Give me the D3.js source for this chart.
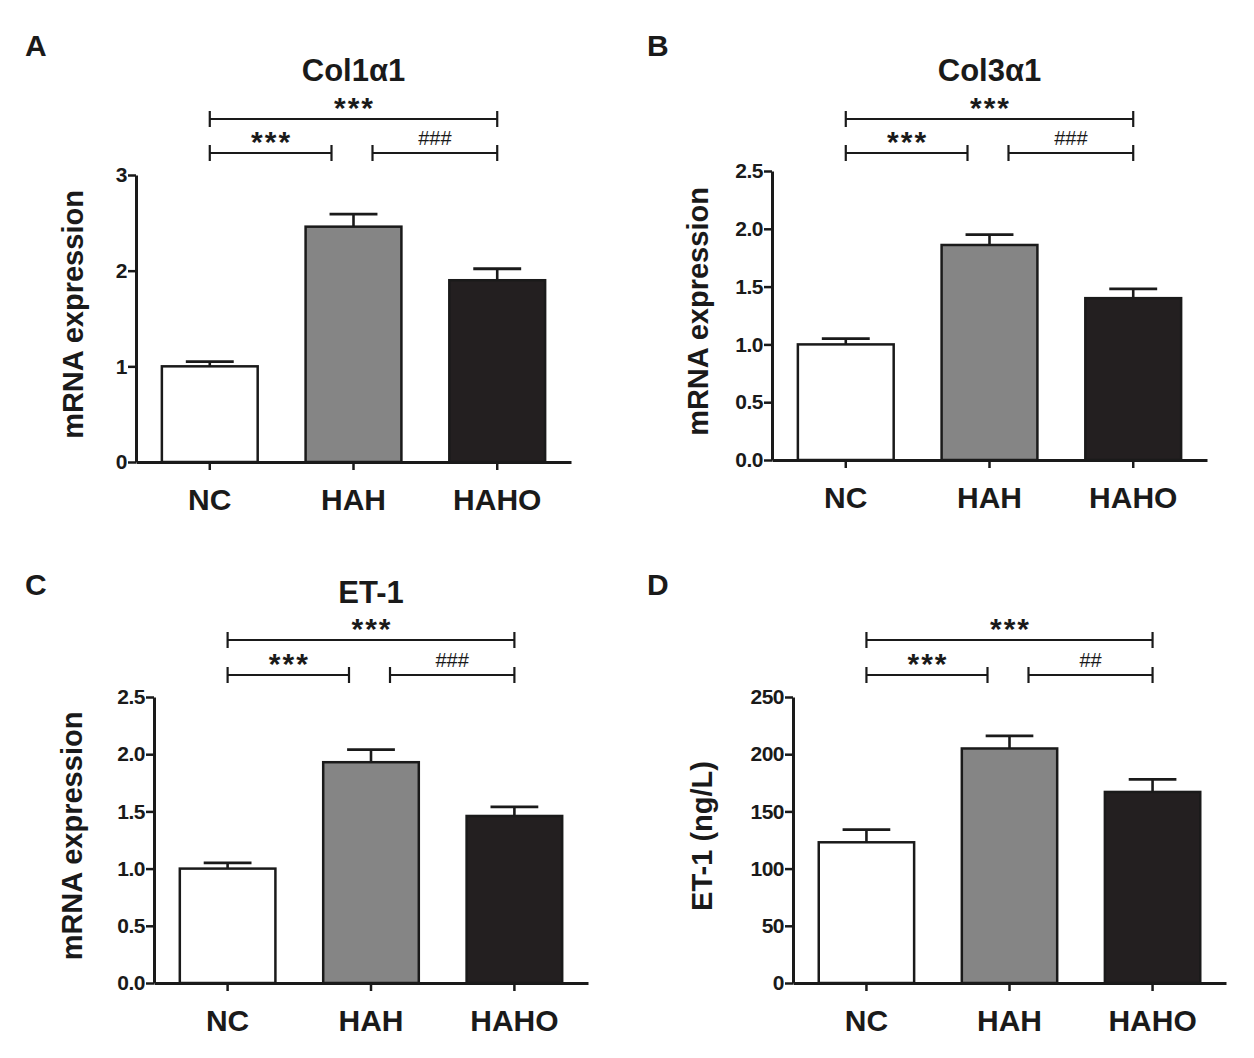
<!DOCTYPE html>
<html>
<head>
<meta charset="utf-8" />
<title>Col1a1 Col3a1 ET-1</title>
<script src="https://d3js.org/d3.v7.min.js"></script>
<style>
  body { margin: 0; background: #fff; }
  text { font-family: "Liberation Sans", Arial, sans-serif; fill: #1a1a1a; }
</style>
</head>
<body>
<svg id="fig" width="1254" height="1058"></svg>
<script>
// groups and values (mean, SEM)
const groups = ["NC", "HAH", "HAHO"];
const barColors = ["#ffffff", "#858585", "#231f20"];

const col1Mean = [1.00, 2.46, 1.90];
const col1Sem = [0.05, 0.13, 0.12];
const col3Mean = [1.00, 1.86, 1.40];
const col3Sem = [0.05, 0.09, 0.08];
const et1Mean = [1.00, 1.93, 1.46];
const et1Sem = [0.05, 0.11, 0.08];
const et1SerumMean = [123, 205, 167];
const et1SerumSem = [11, 11, 11];

const ticksA = [0, 1, 2, 3];
const ticksHalf = [0, 0.5, 1.0, 1.5, 2.0, 2.5];
const ticksNg = [0, 50, 100, 150, 200, 250];

// pairs compared: [from, to]
const pairs = [[0, 1], [1, 2], [0, 2]];
const marksMrna = ["***", "###", "***"];
const marksSerum = ["***", "##", "***"];

const svg = d3.select("#fig");
const ink = "#1a1a1a";

function panel(o) {
  const g = svg.append("g");

  const x = d3.scaleBand().domain(groups)
    .range([o.left, o.right]).paddingInner(1 / 3).paddingOuter(0.18);
  const y = d3.scaleLinear().domain([0, o.max]).range([o.bottom, o.top]);

  // bars + error bars (upper only)
  const bars = g.append("g");
  groups.forEach((k, i) => {
    const cx = x(k) + x.bandwidth() / 2;
    const capW = x.bandwidth() * 0.5;
    const top = y(o.mean[i] + o.sem[i]);
    bars.append("line")
      .attr("x1", cx).attr("x2", cx)
      .attr("y1", y(o.mean[i])).attr("y2", top)
      .attr("stroke", ink).attr("stroke-width", 2.6);
    bars.append("line")
      .attr("x1", cx - capW / 2).attr("x2", cx + capW / 2)
      .attr("y1", top).attr("y2", top)
      .attr("stroke", ink).attr("stroke-width", 2.8);
    bars.append("rect")
      .attr("x", x(k)).attr("width", x.bandwidth())
      .attr("y", y(o.mean[i])).attr("height", y(0) - y(o.mean[i]))
      .attr("fill", barColors[i]).attr("stroke", ink).attr("stroke-width", 2.5);
  });

  // y axis
  const ya = g.append("g").attr("transform", `translate(${o.left},0)`)
    .call(d3.axisLeft(y).tickValues(o.ticks).tickFormat(d3.format(o.fmt))
      .tickSize(8).tickSizeOuter(0).tickPadding(1));
  ya.select(".domain").attr("stroke", ink).attr("stroke-width", 3);
  ya.selectAll(".tick line").attr("stroke", ink).attr("stroke-width", 2.5);
  ya.selectAll(".tick text").attr("font-size", 21).attr("font-weight", "bold")
    .attr("fill", ink).attr("font-family", "Liberation Sans, Arial, sans-serif")
    .attr("letter-spacing", -0.5);

  // x axis
  const xa = g.append("g").attr("transform", `translate(0,${o.bottom})`)
    .call(d3.axisBottom(x).tickSize(8).tickSizeOuter(0).tickPadding(19));
  xa.select(".domain").attr("stroke", ink).attr("stroke-width", 3);
  xa.selectAll(".tick line").attr("stroke", ink).attr("stroke-width", 2.5);
  xa.selectAll(".tick text").attr("font-size", 30).attr("font-weight", "bold")
    .attr("fill", ink).attr("font-family", "Liberation Sans, Arial, sans-serif");

  // y title
  g.append("text")
    .attr("transform", `translate(${o.left - o.titleOff},${(o.top + o.bottom) / 2 - 4}) rotate(-90)`)
    .attr("text-anchor", "middle")
    .attr("font-size", 29).attr("font-weight", "bold")
    .text(o.yLabel);

  // chart title
  if (o.title) {
    g.append("text")
      .attr("x", (o.left + o.right) / 2).attr("y", o.titleY)
      .attr("text-anchor", "middle")
      .attr("font-size", 31).attr("font-weight", "bold")
      .text(o.title);
  }

  // panel letter
  g.append("text").attr("x", o.letterX).attr("y", o.letterY)
    .attr("font-size", 30).attr("font-weight", "bold").text(o.letter);

  // significance brackets
  pairs.forEach((p, i) => {
    const span = p[1] - p[0];
    const ly = span > 1 ? o.top - o.hiOff : o.top - o.loOff;
    let x1 = x(groups[p[0]]) + x.bandwidth() / 2;
    let x2 = x(groups[p[1]]) + x.bandwidth() / 2;
    if (span === 1 && p[0] === 1) x1 += 19;
    if (span === 1 && p[1] === 1) x2 -= 22;
    const b = g.append("g").attr("stroke", ink).attr("stroke-width", 2.2);
    b.append("line").attr("x1", x1).attr("x2", x2).attr("y1", ly).attr("y2", ly);
    b.append("line").attr("x1", x1).attr("x2", x1).attr("y1", ly - 8).attr("y2", ly + 8);
    b.append("line").attr("x1", x2).attr("x2", x2).attr("y1", ly - 8).attr("y2", ly + 8);
    const m = o.marks[i];
    const star = m[0] === "*";
    g.append("text")
      .attr("x", (x1 + x2) / 2 + (star ? 1 : 0)).attr("y", star ? ly - 1 : ly - 8)
      .attr("text-anchor", "middle")
      .attr("font-size", star ? 30 : 20)
      .attr("font-weight", star ? "bold" : "normal")
      .attr("letter-spacing", star ? 2 : 0)
      .text(m);
  });
}

panel({ letter: "A", letterX: 25, letterY: 56, title: "Col1\u03b11", titleY: 81,
  left: 136, right: 571, top: 175, bottom: 462, max: 3, ticks: ticksA, fmt: "d",
  mean: col1Mean, sem: col1Sem, yLabel: "mRNA expression", titleOff: 53,
  hiOff: 56, loOff: 22, marks: marksMrna });

panel({ letter: "B", letterX: 647, letterY: 56, title: "Col3\u03b11", titleY: 81,
  left: 772, right: 1207, top: 171, bottom: 460, max: 2.5, ticks: ticksHalf, fmt: ".1f",
  mean: col3Mean, sem: col3Sem, yLabel: "mRNA expression", titleOff: 64,
  hiOff: 52, loOff: 18, marks: marksMrna });

panel({ letter: "C", letterX: 25, letterY: 595, title: "ET-1", titleY: 603,
  left: 154, right: 588, top: 697, bottom: 983, max: 2.5, ticks: ticksHalf, fmt: ".1f",
  mean: et1Mean, sem: et1Sem, yLabel: "mRNA expression", titleOff: 72,
  hiOff: 57, loOff: 22, marks: marksMrna });

panel({ letter: "D", letterX: 647, letterY: 595, title: null,
  left: 793, right: 1226, top: 697, bottom: 983, max: 250, ticks: ticksNg, fmt: "d",
  mean: et1SerumMean, sem: et1SerumSem, yLabel: "ET-1 (ng/L)", titleOff: 81,
  hiOff: 57, loOff: 22, marks: marksSerum });
</script>
</body>
</html>
